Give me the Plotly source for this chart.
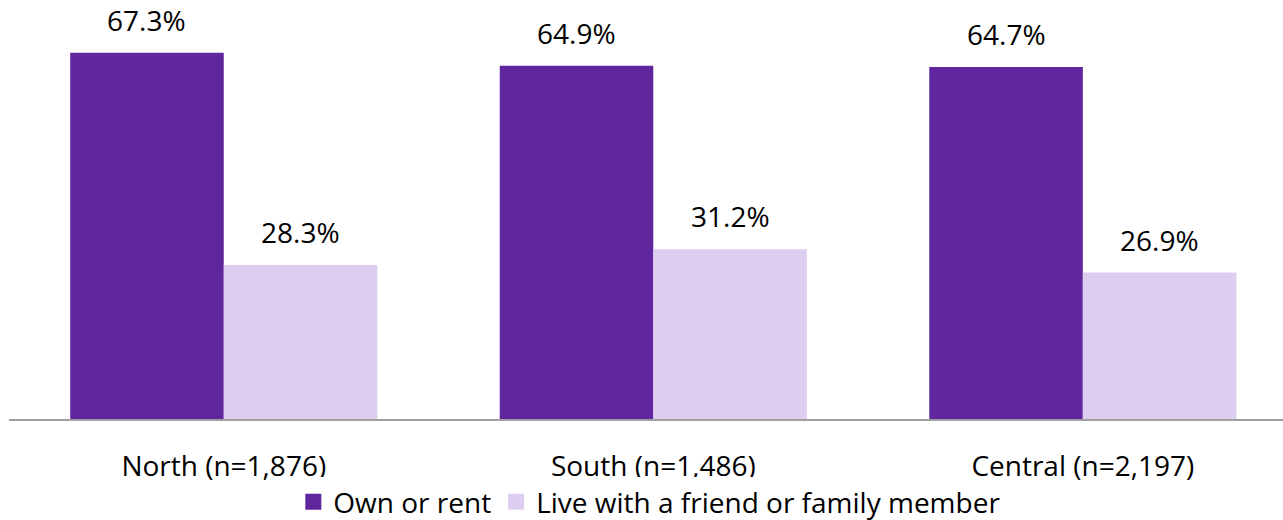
import plotly.graph_objects as go

regions = ["North (n=1,876)", "South (n=1,486)", "Central (n=2,197)"]
own_or_rent = [67.3, 64.9, 64.7]
live_with_others = [28.3, 31.2, 26.9]
series_names = ["Own or rent", "Live with a friend or family member"]
colors = ["#60269e", "#dccdf1"]

FONT = "Open Sans"
FSIZE = 28
BARGAP = 0.285

fig = go.Figure()
for name, vals, col in zip(series_names, [own_or_rent, live_with_others], colors):
    fig.add_trace(go.Bar(
        name=name, x=regions, y=vals, showlegend=False,
        marker=dict(color=col, line=dict(width=0)),
    ))
# legend entries drawn as large square swatches
for name, col in zip(series_names, colors):
    fig.add_trace(go.Scatter(
        name=name, x=[None], y=[None], mode="markers",
        marker=dict(symbol="square", size=17, color=col),
    ))

# value labels above each bar, offset to the bar's slot in its group
half = (1 - BARGAP) / 4
for k, vals in enumerate([own_or_rent, live_with_others]):
    off = -half if k == 0 else half
    for i, v in enumerate(vals):
        fig.add_annotation(
            x=i + off, y=v, xref="x", yref="y", text=f"{v:.1f}%",
            showarrow=False, yanchor="bottom", yshift=12,
            font=dict(family=FONT, size=FSIZE, color="#000000"),
        )

fig.update_layout(
    width=1283, height=520,
    margin=dict(l=9, r=0, t=0, b=101, autoexpand=False),
    paper_bgcolor="white", plot_bgcolor="white",
    barmode="group", bargap=BARGAP, bargroupgap=0,
    font=dict(family=FONT, size=FSIZE, color="#000000"),
    showlegend=True,
    legend=dict(
        orientation="h", x=0.503, xanchor="center",
        y=-0.198, yanchor="middle",
        font=dict(family=FONT, size=FSIZE, color="#000000"),
        traceorder="normal", itemsizing="trace", itemwidth=30,
    ),
)
fig.update_xaxes(
    type="category", range=[-0.5, 2.466], automargin=False,
    showline=True, linecolor="#a0a0a0", linewidth=2,
    showgrid=False, ticks="", ticklabelstandoff=21, tickangle=0,
    tickfont=dict(family=FONT, size=FSIZE, color="#000000"),
)
fig.update_yaxes(range=[0, 77], visible=False, showgrid=False, automargin=False)

fig.write_html("out.html")
